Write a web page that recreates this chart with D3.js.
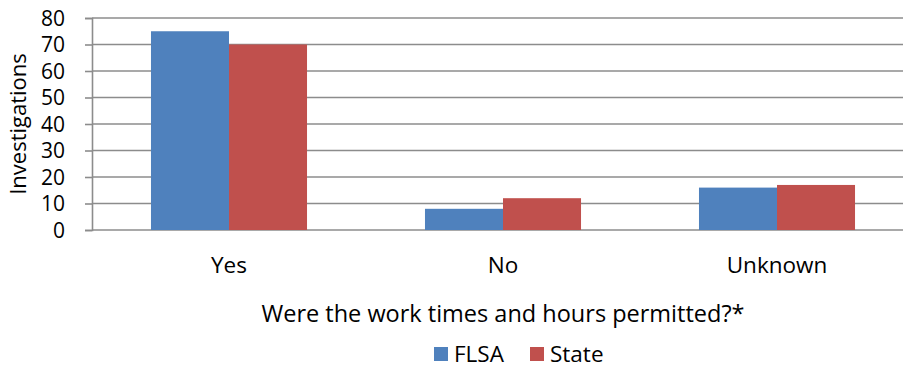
<!DOCTYPE html>
<html>
<head>
<meta charset="utf-8">
<script src="https://cdn.jsdelivr.net/npm/d3@7"></script>
<style>
  html, body { margin: 0; padding: 0; background: #fff; }
  svg { display: block; font-family: "Open Sans", sans-serif; }
</style>
</head>
<body>
<svg id="chart" width="903" height="368"></svg>
<script>
// Investigations by whether work times and hours were permitted
const categories = ["Yes", "No", "Unknown"];
const seriesNames = ["FLSA", "State"];
const flsaValues = [75, 8, 16];
const stateValues = [70, 12, 17];
const yTicks = [0, 10, 20, 30, 40, 50, 60, 70, 80];
const colors = { FLSA: "#4F81BD", State: "#C0504D" };

const FONT = "'Open Sans', sans-serif";

const svg = d3.select("#chart");
const margin = { left: 92, top: 18, bottom: 230 };
const plotRight = 914;

const x = d3.scaleBand().domain(categories).range([margin.left, plotRight]).paddingInner(0).paddingOuter(0);
const xSub = d3.scaleBand().domain(seriesNames).range([0, x.bandwidth()]).paddingInner(0).paddingOuter(0.756);
const y = d3.scaleLinear().domain([0, 80]).range([margin.bottom, margin.top]);

// gridlines
svg.append("g")
  .selectAll("line")
  .data(yTicks)
  .join("line")
  .attr("x1", margin.left)
  .attr("x2", plotRight)
  .attr("y1", d => y(d))
  .attr("y2", d => y(d))
  .attr("stroke", "#8c8c8c")
  .attr("stroke-width", 1.6);

// bars
const rows = categories.map((c, i) => ({ cat: c, FLSA: flsaValues[i], State: stateValues[i] }));
const groups = svg.append("g").selectAll("g")
  .data(rows)
  .join("g")
  .attr("transform", d => `translate(${x(d.cat)},0)`);
groups.selectAll("rect")
  .data(d => seriesNames.map(s => ({ s, v: d[s] })))
  .join("rect")
  .attr("x", d => xSub(d.s))
  .attr("width", xSub.bandwidth())
  .attr("y", d => y(d.v))
  .attr("height", d => y(0) - y(d.v))
  .attr("fill", d => colors[d.s]);

// y axis
const yAxis = d3.axisLeft(y).tickValues(yTicks).tickSize(7).tickPadding(20);
const yg = svg.append("g").attr("transform", `translate(${margin.left},0)`).call(yAxis);
yg.select(".domain").attr("stroke", "#8c8c8c").attr("stroke-width", 1.6);
yg.selectAll(".tick line").attr("stroke", "#8c8c8c").attr("stroke-width", 1.6);
yg.selectAll(".tick text").attr("font-size", 21).attr("fill", "#000").attr("font-family", FONT).attr("dy", "0.35em");

// x axis labels
const xAxis = d3.axisBottom(x).tickSize(0).tickPadding(27);
const xg = svg.append("g").attr("transform", `translate(0,${margin.bottom})`).call(xAxis);
xg.select(".domain").remove();
xg.selectAll(".tick text").attr("font-size", 22.5).attr("fill", "#000").attr("font-family", FONT);

// axis titles
svg.append("text")
  .attr("x", 503).attr("y", 322)
  .attr("text-anchor", "middle")
  .attr("font-size", 23.5)
  .text("Were the work times and hours permitted?*");

svg.append("text")
  .attr("transform", "translate(26,124) rotate(-90)")
  .attr("text-anchor", "middle")
  .attr("font-size", 22)
  .text("Investigations");

// legend
const legend = svg.append("g");
const legendItems = [{ name: "FLSA", x: 434 }, { name: "State", x: 530 }];
legendItems.forEach(item => {
  legend.append("rect").attr("x", item.x).attr("y", 347).attr("width", 14).attr("height", 14).attr("fill", colors[item.name]);
  legend.append("text").attr("x", item.x + 20).attr("y", 362).attr("font-size", 22.5).text(item.name);
});
</script>
</body>
</html>
